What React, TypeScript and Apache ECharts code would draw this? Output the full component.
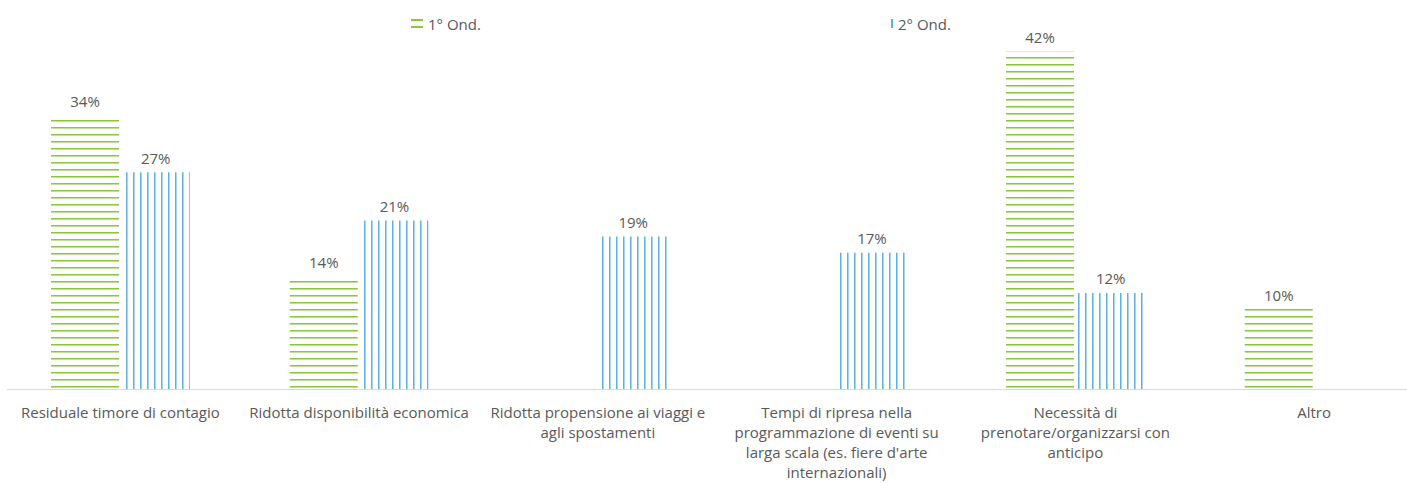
import React, { useEffect, useRef } from 'react';
import * as echarts from 'echarts';

const categories = [
  'Residuale timore di contagio',
  'Ridotta disponibilità economica',
  'Ridotta propensione ai viaggi e\nagli spostamenti',
  "Tempi di ripresa nella\nprogrammazione di eventi su\nlarga scala (es. fiere d'arte\ninternazionali)",
  'Necessità di\nprenotare/organizzarsi con\nanticipo',
  'Altro',
];
const seriesNames = ['1° Ond.', '2° Ond.'];
const wave1: (number | null)[] = [34, 14, null, null, 42, 10];
const wave2: (number | null)[] = [27, 21, 19, 17, 12, null];

const GREEN = '#8cc63e';
const BLUE = '#5db3e6';
const TEXT = '#595959';
const FONT = '"Open Sans", "Segoe UI", sans-serif';
const FS = 15;

function makePattern(color: string, horizontal: boolean) {
  const c = document.createElement('canvas');
  c.width = 7;
  c.height = 7;
  const ctx = c.getContext('2d')!;
  ctx.fillStyle = color;
  if (horizontal) {
    ctx.fillRect(0, 1, 7, 1);
    ctx.globalAlpha = 0.55;
    ctx.fillRect(0, 2, 7, 1);
  } else {
    ctx.fillRect(0, 0, 1, 7);
    ctx.globalAlpha = 0.55;
    ctx.fillRect(1, 0, 1, 7);
  }
  return { image: c, repeat: 'repeat', imageWidth: 7, imageHeight: 7 } as any;
}

export default function App() {
  const ref = useRef<HTMLDivElement>(null);
  useEffect(() => {
    if (!ref.current) return;
    const chart = echarts.init(ref.current, undefined, { renderer: 'svg' });
    const label = {
      show: true,
      position: 'top',
      distance: 7,
      color: TEXT,
      fontSize: FS,
      fontFamily: FONT,
      formatter: (p: any) => (p.value == null ? '' : p.value + '%'),
    };
    const legendText = { color: TEXT, fontSize: FS, fontFamily: FONT };
    chart.setOption({
      animation: false,
      textStyle: { fontFamily: FONT },
      legend: [
        {
          left: 406,
          top: 11,
          padding: 5,
          itemWidth: 12,
          itemHeight: 9,
          textStyle: legendText,
          data: [
            {
              name: seriesNames[0],
              icon: 'path://M0,0H12V2H0Z M0,7H12V9H0Z',
              itemStyle: { color: GREEN },
            },
          ],
        },
        {
          left: 886,
          top: 11,
          padding: 5,
          itemWidth: 2,
          itemHeight: 9,
          textStyle: legendText,
          data: [
            {
              name: seriesNames[1],
              icon: 'rect',
              itemStyle: { color: BLUE },
            },
          ],
        },
      ],
      grid: {
        left: 1,
        width: 1432.5,
        top: 27.25,
        bottom: 93.5,
        containLabel: false,
        outerBoundsMode: 'none',
      },
      xAxis: {
        type: 'category',
        data: categories,
        axisLine: { show: false },
        axisTick: { show: false },
        axisLabel: {
          interval: 0,
          color: TEXT,
          fontSize: FS,
          lineHeight: 20,
          margin: 12,
          fontFamily: FONT,
        },
      },
      yAxis: {
        type: 'value',
        min: 0,
        max: 45,
        show: false,
        splitLine: { show: false },
      },
      graphic: [
        {
          type: 'line',
          silent: true,
          z: 10,
          shape: { x1: 7, y1: 389.5, x2: 1407, y2: 389.5 },
          style: { stroke: '#d9d9d9', lineWidth: 1 },
        },
      ],
      series: [
        {
          name: seriesNames[0],
          type: 'bar',
          data: wave1,
          barWidth: 68,
          barGap: '4%',
          itemStyle: { color: makePattern(GREEN, true) },
          label,
        },
        {
          name: seriesNames[1],
          type: 'bar',
          data: wave2,
          barWidth: 68,
          barGap: '4%',
          itemStyle: { color: makePattern(BLUE, false) },
          label,
        },
      ],
    });
    return () => chart.dispose();
  }, []);
  return (
    <div
      ref={ref}
      style={{ position: 'absolute', left: 0, top: 0, width: 1407, height: 483 }}
    />
  );
}
